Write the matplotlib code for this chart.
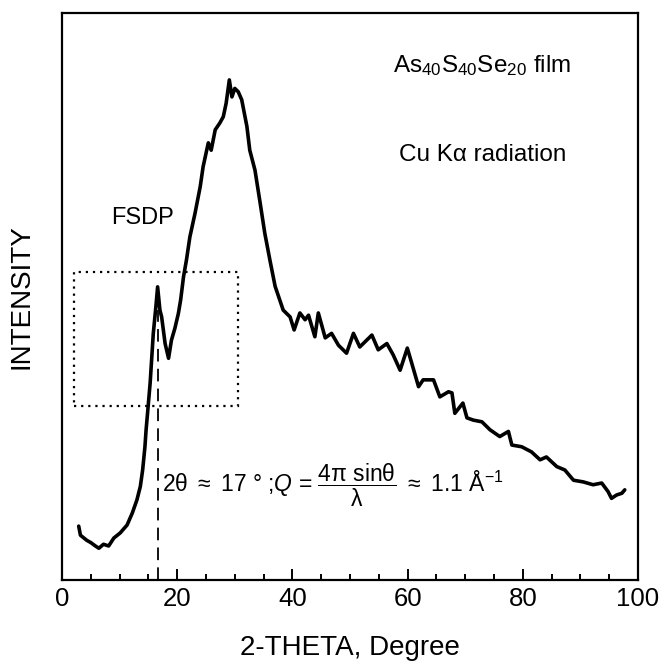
import matplotlib
matplotlib.use("Agg")
import matplotlib.pyplot as plt
from matplotlib.patches import Rectangle

plt.rcParams['font.family'] = ['Liberation Sans', 'DejaVu Sans']
plt.rcParams['mathtext.fontset'] = 'custom'
plt.rcParams['mathtext.rm'] = 'Liberation Sans'
plt.rcParams['mathtext.it'] = 'Liberation Sans:italic'
plt.rcParams['mathtext.bf'] = 'Liberation Sans:bold'

# XRD pattern (intensity in arbitrary units, 0-100)
two_theta = [2.9, 3.2, 4.3, 5.0, 5.8, 6.4, 7.2, 8.1, 9.0, 10.1, 11.3, 12.2, 13.0, 13.6,
             14.0, 14.4, 14.6, 14.8, 15.3, 15.85, 16.3, 16.6, 17.0, 17.3, 17.9, 18.5,
             19.0, 19.6, 20.2, 20.6, 21.1, 21.6, 22.2, 23.1, 24.0, 24.5, 25.4, 25.9,
             26.6, 27.4, 28.0, 28.5, 29.05, 29.5, 30.0, 30.6, 31.2, 32.1, 32.6, 33.5,
             34.4, 35.2, 36.1, 37.0, 38.4, 39.6, 40.3, 41.3, 42.2, 42.8, 43.9, 44.5,
             45.7, 46.8, 48.0, 49.4, 50.6, 51.7, 52.9, 53.8, 54.9, 56.4, 57.5, 58.7,
             59.95, 60.7, 61.9, 62.7, 64.5, 65.6, 67.1, 67.7, 68.2, 69.6, 70.3, 71.4,
             72.9, 74.3, 76.0, 77.5, 78.1, 79.8, 81.5, 83.0, 84.1, 85.9, 87.3, 88.8,
             90.5, 92.2, 93.7, 94.8, 95.4, 96.3, 97.2, 97.7]
intensity = [9.5, 7.9, 7.0, 6.6, 6.0, 5.6, 6.3, 6.0, 7.4, 8.3, 9.7, 11.8, 14.1, 16.5,
             19.4, 23.5, 26.5, 28.8, 34.7, 43.5, 48.2, 51.7, 47.6, 46.4, 41.7, 39.1,
             42.3, 44.4, 47.0, 49.4, 53.5, 56.4, 60.5, 64.7, 69.4, 72.9, 77.1, 75.8,
             79.4, 80.6, 81.7, 84.1, 88.2, 85.2, 86.7, 86.1, 84.7, 80.0, 75.8, 72.3,
             66.5, 61.2, 56.4, 51.8, 47.6, 46.4, 44.1, 47.1, 45.9, 46.7, 42.9, 47.1,
             42.7, 43.5, 41.4, 40.0, 43.5, 41.1, 42.3, 43.2, 40.6, 41.7, 39.7, 37.0,
             40.9, 38.3, 34.1, 35.3, 35.3, 32.3, 33.2, 33.0, 29.4, 31.2, 28.6, 28.2,
             27.9, 26.5, 25.3, 26.2, 23.8, 23.5, 22.6, 21.2, 21.7, 20.0, 19.4, 17.6,
             17.3, 16.8, 17.1, 15.6, 14.4, 15.0, 15.3, 15.9]

fsdp_pos = 16.7
fsdp_top = 47.6
box_x = [2.1, 30.6]
box_y = [30.7, 54.4]
x_major = [0, 20, 40, 60, 80, 100]
x_minor = list(range(0, 101, 5))

fig = plt.figure(figsize=(6.59, 6.72), dpi=100)
ax = fig.add_axes([62/659, 92/672, 576/659, 567/672])

ax.plot(two_theta, intensity, color='black', lw=2.6, solid_joinstyle='round',
        solid_capstyle='round')
ax.plot([fsdp_pos, fsdp_pos], [0, fsdp_top], color='black', lw=1.3,
        dashes=(7, 4))
ax.add_patch(Rectangle((box_x[0], box_y[0]), box_x[1]-box_x[0], box_y[1]-box_y[0],
                       fill=False, ec='black', lw=1.6, ls=(0, (1, 2.2))))

ax.set_xlim(0, 100)
ax.set_ylim(0, 100)
ax.set_xticks(x_major)
ax.set_xticks(x_minor, minor=True)
ax.set_yticks([])
ax.tick_params(axis='x', which='major', direction='in', length=8, width=1.4,
               labelsize=18.5, pad=5)
ax.tick_params(axis='x', which='minor', direction='in', length=4.5, width=1.4)
for s in ax.spines.values():
    s.set_linewidth(1.6)

ax.set_xlabel('2-THETA, Degree', fontsize=20, labelpad=17)
ax.set_ylabel('INTENSITY', fontsize=20, labelpad=20)

ax.text(73, 90.8, r'As$_{\mathregular{40}}$S$_{\mathregular{40}}$Se$_{\mathregular{20}}$ film',
        fontsize=17.5, ha='center', va='center')
ax.text(73, 75, 'Cu Kα radiation', fontsize=17.5, ha='center', va='center')
ax.text(13.9, 63.8, 'FSDP', fontsize=17, ha='center', va='center')
ax.text(17.3, 16.6,
        r'2$\mathrm{\theta}$ $\approx$ 17 $\degree$ ;$Q$ = '
        r'$\dfrac{4\mathrm{\pi}\ \mathrm{sin\theta}}{\mathrm{\lambda}}$ $\approx$ 1.1 '
        r'$\mathrm{\AA}^{\mathregular{-1}}$',
        fontsize=16.5, ha='left', va='center')

fig.savefig('out.png', dpi=100)
